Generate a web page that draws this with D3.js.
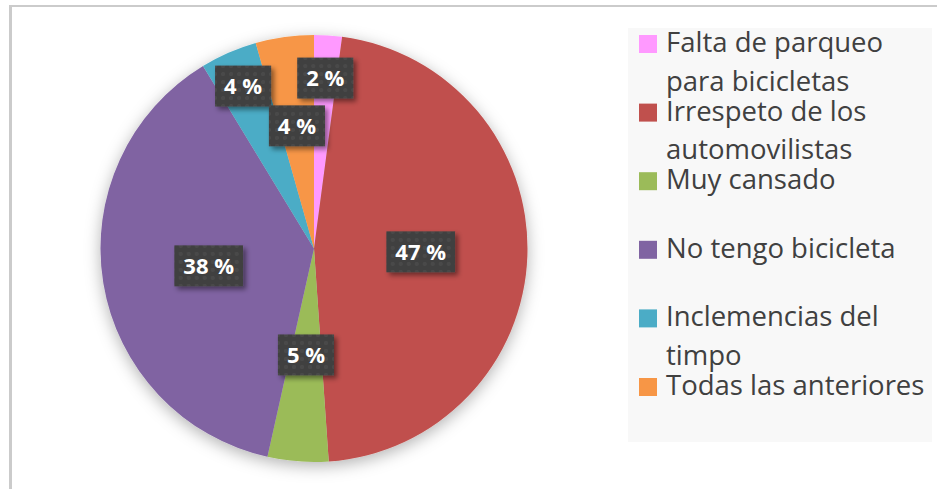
<!DOCTYPE html>
<html>
<head>
<meta charset="utf-8">
<script src="https://cdn.jsdelivr.net/npm/d3@7"></script>
<style>
  body { margin: 0; background: #fff; }
  svg { display: block; }
</style>
</head>
<body>
<div id="pie-chart"></div>
<script>
// data
var categories = [
  "Falta de parqueo\npara bicicletas",
  "Irrespeto de los\nautomovilistas",
  "Muy cansado",
  "No tengo bicicleta",
  "Inclemencias del\ntimpo",
  "Todas las anteriores"
];
var values = [2.1, 46.8, 4.6, 37.8, 4.3, 4.4];
var colors = ["#FF99FF", "#C0504D", "#9BBB59", "#8064A2", "#4BACC6", "#F79646"];

// where the data labels sit, as a fraction of the radius
var labelRadius = [0.80, 0.50, 0.50, 0.50, 0.83, 0.58];

var width = 937, height = 489;

var svg = d3.select("#pie-chart")
  .append("svg")
  .attr("width", width)
  .attr("height", height);

var defs = svg.append("defs");

// soft shadow round the pie
var pieShadow = defs.append("filter").attr("id", "pieShadow")
  .attr("x", "-20%").attr("y", "-20%").attr("width", "140%").attr("height", "140%");
pieShadow.append("feDropShadow")
  .attr("dx", 0).attr("dy", 4).attr("stdDeviation", 8)
  .attr("flood-color", "#000").attr("flood-opacity", 0.3);

var boxShadow = defs.append("filter").attr("id", "boxShadow")
  .attr("x", "-30%").attr("y", "-30%").attr("width", "160%").attr("height", "160%");
boxShadow.append("feDropShadow")
  .attr("dx", 3).attr("dy", 3).attr("stdDeviation", 2.5)
  .attr("flood-color", "#000").attr("flood-opacity", 0.45);

// dotted texture of the label boxes
var pat = defs.append("pattern").attr("id", "dots")
  .attr("width", 8).attr("height", 8).attr("patternUnits", "userSpaceOnUse");
pat.append("rect").attr("width", 8).attr("height", 8).attr("fill", "#404040");
pat.append("circle").attr("cx", 4).attr("cy", 4).attr("r", 2).attr("fill", "#4a4a4a");

// frame
svg.append("line").attr("x1", 10).attr("x2", width).attr("y1", 6).attr("y2", 6)
  .attr("stroke", "#cbcbcb").attr("stroke-width", 2);
svg.append("line").attr("x1", 10.5).attr("x2", 10.5).attr("y1", 5).attr("y2", height)
  .attr("stroke", "#cbcbcb").attr("stroke-width", 3);

// pie
var cx = 314, cy = 248.5, radius = 213.5;

var pie = d3.pie().sort(null).value(d => d)(values);
var arc = d3.arc().innerRadius(0).outerRadius(radius);

var g = svg.append("g").attr("transform", `translate(${cx},${cy})`);

g.append("g")
  .attr("filter", "url(#pieShadow)")
  .selectAll("path")
  .data(pie)
  .join("path")
  .attr("d", arc)
  .attr("fill", (d, i) => colors[i]);

// data labels
var labels = g.selectAll("g.label")
  .data(pie)
  .join("g")
  .attr("class", "label")
  .attr("transform", (d, i) => {
    var c = d3.arc().innerRadius(0).outerRadius(2 * radius * labelRadius[i]).centroid(d);
    return `translate(${c[0]},${c[1]})`;
  });

labels.each(function(d) {
  var lg = d3.select(this);
  var txt = lg.append("text")
    .attr("text-anchor", "middle")
    .attr("dy", "0.36em")
    .attr("font-family", "'Open Sans', sans-serif")
    .attr("font-weight", "bold")
    .attr("font-size", 22)
    .attr("fill", "#fff")
    .text(Math.round(d.value) + " %");
  var w = txt.node().getComputedTextLength() + 18, h = 41;
  lg.insert("rect", "text")
    .attr("x", -w / 2).attr("y", -h / 2)
    .attr("width", w).attr("height", h)
    .attr("fill", "url(#dots)")
    .attr("filter", "url(#boxShadow)");
});

// legend
svg.append("rect")
  .attr("x", 628).attr("y", 28)
  .attr("width", 304).attr("height", 414)
  .attr("fill", "#f8f8f8");

var legend = svg.append("g")
  .selectAll("g")
  .data(categories)
  .join("g")
  .attr("transform", (d, i) => `translate(639,${52 + i * 68.6})`);

legend.append("rect")
  .attr("x", 0).attr("y", -17)
  .attr("width", 18).attr("height", 18)
  .attr("fill", (d, i) => colors[i]);

legend.append("text")
  .attr("x", 27)
  .attr("font-family", "'Open Sans', sans-serif")
  .attr("font-size", 27.5)
  .attr("fill", "#404040")
  .selectAll("tspan")
  .data(d => d.split("\n"))
  .join("tspan")
  .attr("x", 27)
  .attr("dy", (d, i) => i ? 38.5 : 0)
  .text(d => d);
</script>
</body>
</html>
